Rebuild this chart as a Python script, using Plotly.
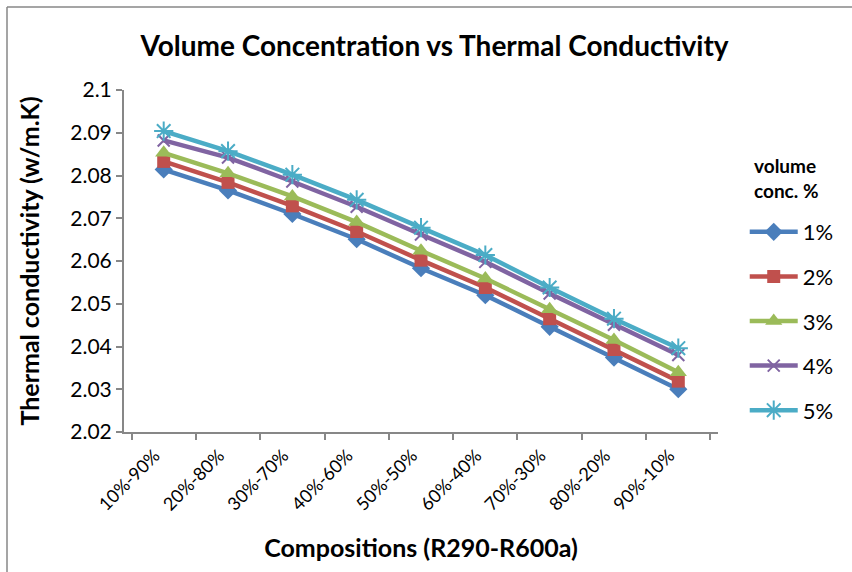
import plotly.graph_objects as go

categories = ["10%-90%", "20%-80%", "30%-70%", "40%-60%", "50%-50%",
              "60%-40%", "70%-30%", "80%-20%", "90%-10%"]
series_names = ["1%", "2%", "3%", "4%", "5%"]
conc_1 = [2.0814, 2.0765, 2.0710, 2.0651, 2.0583, 2.0520, 2.0446, 2.0374, 2.0300]
conc_2 = [2.0833, 2.0784, 2.0729, 2.0669, 2.0602, 2.0538, 2.0465, 2.0393, 2.0319]
conc_3 = [2.0853, 2.0805, 2.0751, 2.0691, 2.0624, 2.0559, 2.0487, 2.0415, 2.0340]
conc_4 = [2.0882, 2.0842, 2.0786, 2.0727, 2.0662, 2.0598, 2.0524, 2.0451, 2.0380]
conc_5 = [2.0904, 2.0857, 2.0802, 2.0743, 2.0678, 2.0614, 2.0538, 2.0465, 2.0396]
y_ticks = [2.02, 2.03, 2.04, 2.05, 2.06, 2.07, 2.08, 2.09, 2.1]

values = [conc_1, conc_2, conc_3, conc_4, conc_5]
colors = ["#4A7EBB", "#C0504D", "#9BBB59", "#8064A2", "#4BACC6"]
symbols = ["diamond", "square", "triangle-up", "x-thin-open", "asterisk-open"]
msizes = [14, 13, 15, 12, 16]

FONT = "Lato"

fig = go.Figure()
for i, (name, vals) in enumerate(zip(series_names, values)):
    sym = symbols[i]
    marker = dict(symbol=sym, size=msizes[i], color=colors[i])
    if "open" in sym:
        marker["line"] = dict(color=colors[i], width=2)
    else:
        marker["line"] = dict(width=0)
    fig.add_trace(go.Scatter(
        x=categories, y=vals, name=name, mode="lines+markers",
        line=dict(color=colors[i], width=4.5),
        marker=marker, legendgroup=name,
    ))

fig.update_layout(
    width=852, height=572,
    margin=dict(l=124, r=134, t=90, b=140),
    paper_bgcolor="white", plot_bgcolor="white",
    font=dict(family=FONT, color="black", size=16),
    title=dict(text="<b>Volume Concentration vs Thermal Conductivity</b>",
               x=0.51, xanchor="center", y=0.92, yanchor="middle",
               font=dict(size=28, family=FONT)),
    showlegend=True,
    legend=dict(
        x=1.045, xanchor="left", y=(432 - 211) / 342, yanchor="top",
        font=dict(size=22), tracegroupgap=13,
        itemwidth=48, bgcolor="rgba(0,0,0,0)",
    ),
    xaxis=dict(
        type="category",
        title=dict(text="<b>Compositions (R290-R600a)</b>", font=dict(size=25), standoff=26),
        showline=True, linecolor="#878787", linewidth=2,
        ticks="outside", tickson="boundaries", ticklen=6, tickcolor="#878787", tickwidth=1.5,
        tickangle=-45, tickfont=dict(size=18),
        ticklabelshift=-9, ticklabelstandoff=4,
        showgrid=False, zeroline=False,
    ),
    yaxis=dict(
        range=[2.02, 2.1], tickvals=y_ticks,
        ticktext=[("%g" % v) for v in y_ticks],
        title=dict(text="<b>Thermal conductivity (w/m.K)</b>", font=dict(size=25), standoff=24),
        showline=True, linecolor="#878787", linewidth=2,
        ticks="outside", ticklen=6, tickcolor="#878787", tickwidth=1.5,
        tickfont=dict(size=21),
        showgrid=False, zeroline=False,
    ),
)

# legend heading
fig.add_annotation(text="<b>volume<br>conc. %</b>", xref="paper", yref="paper",
                   x=(752 - 124) / 594, y=(432 - 152) / 342, xanchor="left", yanchor="top",
                   align="left", showarrow=False, font=dict(size=19, family=FONT))

# outer chart frame (top and left edges visible)
fig.add_shape(type="line", xref="paper", yref="paper",
              x0=(7 - 124) / 594, x1=(900 - 124) / 594,
              y0=(432 - 7) / 342, y1=(432 - 7) / 342,
              line=dict(color="#878787", width=1.5))
fig.add_shape(type="line", xref="paper", yref="paper",
              x0=(7 - 124) / 594, x1=(7 - 124) / 594,
              y0=(432 - 7) / 342, y1=(432 - 600) / 342,
              line=dict(color="#878787", width=1.5))

fig.write_html("out.html")
